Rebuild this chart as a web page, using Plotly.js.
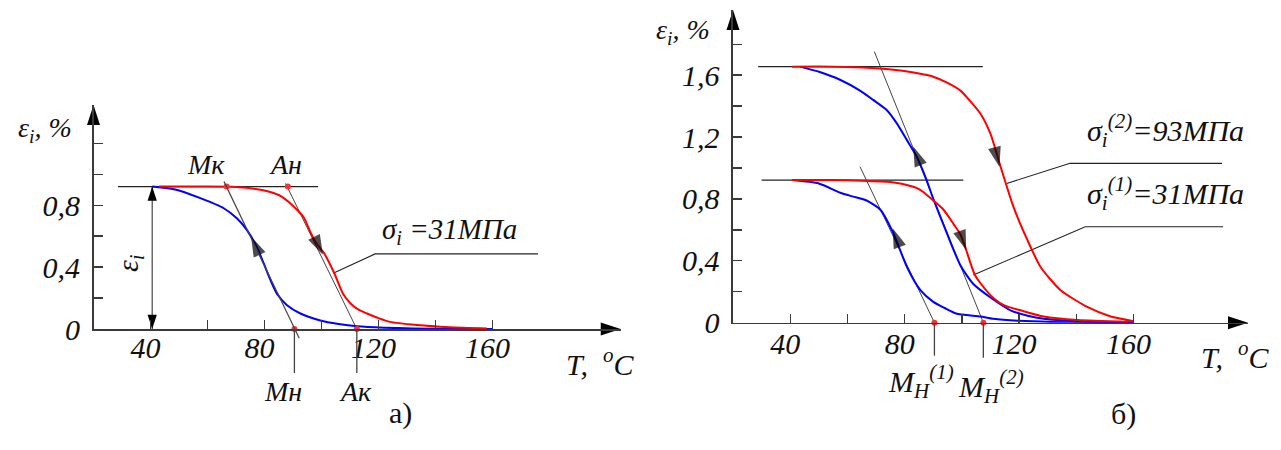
<!DOCTYPE html>
<html><head><meta charset="utf-8">
<script src="https://cdn.plot.ly/plotly-3.0.1.min.js"></script>
<style>
html,body{margin:0;padding:0;background:#fff;}
#chart{width:1281px;height:450px;}
</style>
</head><body><div id="chart"></div>
<script>
// ---------- (а) sigma_i = 31 MPa ----------
const T_a_heat   = [43, 55, 70, 78.6, 82, 85.6, 88.5, 91.4, 93.8, 96, 98, 100.9, 104.5, 107.5, 110.2, 113, 116, 120, 124, 133.5, 145, 158];
const eps_a_heat = [0.92, 0.92, 0.918, 0.90, 0.885, 0.86, 0.82, 0.77, 0.72, 0.63, 0.56, 0.49, 0.36, 0.23, 0.165, 0.125, 0.10, 0.07, 0.046, 0.026, 0.012, 0.004];
const T_a_cool   = [40.6, 49, 57.5, 65.7, 70.3, 73.8, 77.3, 79.7, 82, 84.3, 87.8, 92.6, 99.6, 106, 112.5, 122, 132, 146, 160];
const eps_a_cool = [0.92, 0.90, 0.845, 0.78, 0.715, 0.64, 0.53, 0.425, 0.32, 0.23, 0.155, 0.10, 0.055, 0.032, 0.017, 0.008, 0.004, 0.001, 0];
const a_level = 0.92;
const a_levelT = [28.6, 98.8];
const a_tanMk = {T: [65.8, 92.2], e: [0.952, -0.06]};   // Mк – Mн tangent
const a_tanAn = {T: [87.4, 112.4], e: [0.94, 0]};       // Aн – Aк tangent
const a_points = {T: [66.7, 88.2, 90.5, 112.4], e: [0.92, 0.92, 0, 0]}; // Mк, Aн, Mн, Aк
const a_leader = {T: [104.1, 118.8, 176], e: [0.36, 0.485, 0.485]};
const a_epsArrowT = 40.6;
const a_curveArrows = {T: [78, 75.3, 97, 100.5], e: [0.49, 0.596, 0.61, 0.48]}; // tail, tip pairs
const a_xticks = [40, 80, 120, 160];
const a_xtext  = ['40', '80', '120', '160'];
const a_xminor = [60, 100, 140];
const a_yticks = [0, 0.4, 0.8];
const a_ytext  = ['0', '0,4', '0,8'];
const a_yminor = [0.2, 0.6, 1.0, 1.2];
const a_xrange = [20, 205], a_yrange = [0, 1.447];

// ---------- (б) sigma_i(1) = 31 MPa, sigma_i(2) = 93 MPa ----------
const T_b2_cool   = [43.5, 50.3, 57.4, 64.4, 69, 73.7, 77.2, 80.8, 84.3, 87.5, 90, 94.7, 99.5, 104, 111, 117, 123, 128.6, 140, 160];
const eps_b2_cool = [1.655, 1.62, 1.57, 1.50, 1.44, 1.375, 1.29, 1.18, 1.07, 0.93, 0.80, 0.58, 0.37, 0.25, 0.15, 0.08, 0.045, 0.025, 0.01, 0.003];
const T_b2_heat   = [40.6, 55, 70, 78.5, 85, 90, 95, 99.5, 103, 106.5, 110, 113.5, 118, 123, 127.5, 134.5, 144, 152, 160];
const eps_b2_heat = [1.655, 1.655, 1.645, 1.63, 1.61, 1.59, 1.55, 1.50, 1.43, 1.35, 1.22, 1.01, 0.75, 0.53, 0.36, 0.21, 0.10, 0.04, 0.01];
const T_b1_cool   = [40.6, 50, 57.5, 62, 66.7, 71.5, 76, 80.8, 85.5, 90, 94, 98, 106.5, 111, 120, 131, 145, 160];
const eps_b1_cool = [0.922, 0.90, 0.84, 0.815, 0.79, 0.73, 0.58, 0.36, 0.21, 0.135, 0.095, 0.06, 0.04, 0.025, 0.012, 0.005, 0.002, 0];
const T_b1_heat   = [40.6, 55, 65, 75, 78.5, 84.3, 86.5, 90, 93.6, 97, 99.5, 101.5, 103, 104.5, 106.5, 111, 115, 120.5, 128.6, 140.5, 158];
const eps_b1_heat = [0.922, 0.922, 0.918, 0.91, 0.90, 0.87, 0.845, 0.79, 0.73, 0.64, 0.57, 0.47, 0.385, 0.31, 0.255, 0.16, 0.11, 0.08, 0.04, 0.017, 0.005];
const b_levels = [1.655, 0.922];
const b_levelT = [[28.8, 107.3], [30, 100.5]];
const b_tan2 = {T: [69.4, 107.5], e: [1.752, 0]};
const b_tan1 = {T: [64.4, 90.4], e: [1.008, 0]};
const b_points = {T: [90.4, 107.5], e: [0, 0]};
const b_leader2 = {T: [115.7, 137.8, 190.9], e: [0.90, 1.03, 1.03]};
const b_leader1 = {T: [104, 143.1, 191.3], e: [0.308, 0.62, 0.62]};
const b_curveArrows = {T: [86, 83.0, 78.5, 75.8, 111, 113.1, 99, 101.5], e: [1.0, 1.138, 0.48, 0.61, 1.16, 1.008, 0.6, 0.47]};
const b_xticks = [40, 80, 120, 160];
const b_xtext  = ['40', '80', '120', '160'];
const b_xminor = [60, 100, 140];
const b_yticks = [0, 0.4, 0.8, 1.2, 1.6];
const b_ytext  = ['0', '0,4', '0,8', '1,2', '1,6'];
const b_yminor = [0.2, 0.6, 1.0, 1.4, 1.8];
const b_xrange = [20, 200], b_yrange = [0, 2.021];

const RED = '#ff0000', BLUE = '#0000ff', INK = '#222', AXC = '#3a3a3a';
const FONT = 'Liberation Serif';
const W = 1281, H = 450;
// plot-area geometry (pixels)
const A_PX = {x0: 93.5, x1: 620.7, yBot: 329, yTop: 105, labelLift: 2};
const B_PX = {x0: 733, x1: 1248, yBot: 322.7, yTop: 10, labelLift: 0};

function line(x, y, xa, ya, color, width, shape) {
  return {type: 'scatter', mode: 'lines', x: x, y: y, xaxis: xa, yaxis: ya,
          line: {color: color, width: width, shape: shape || 'linear', smoothing: 0.6},
          hoverinfo: 'skip', showlegend: false};
}
function arrowsFrom(obj, xa, ya, size) {
  const sizes = obj.T.map((_, i) => i % 2 ? size : 0);
  return {type: 'scatter', mode: 'markers', x: obj.T, y: obj.e, xaxis: xa, yaxis: ya,
          marker: {symbol: 'arrow', angleref: 'previous', size: sizes, color: '#000', line: {width: 0}},
          cliponaxis: false, hoverinfo: 'skip', showlegend: false};
}
function dots(obj, xa, ya) {
  return {type: 'scatter', mode: 'markers', x: obj.T, y: obj.e, xaxis: xa, yaxis: ya,
          marker: {size: 6, color: '#ff3030', line: {width: 0}}, cliponaxis: false,
          hoverinfo: 'skip', showlegend: false};
}
function axisArrows(xr, yr, xa, ya) {
  return {type: 'scatter', mode: 'markers', x: [xr[0], xr[1]], y: [yr[1], yr[0]], xaxis: xa, yaxis: ya,
          marker: {symbol: 'arrow', angle: [0, 90], size: 21, color: '#000', line: {width: 0}},
          cliponaxis: false, hoverinfo: 'skip', showlegend: false};
}
// invisible carrier so the label-only x axes get drawn
function carrier(xr, xa, ya) {
  return {type: 'scatter', mode: 'markers', x: [xr[0]], y: [0], xaxis: xa, yaxis: ya,
          marker: {size: 1, opacity: 0}, hoverinfo: 'skip', showlegend: false};
}

const traces = [
  // (а)
  line(a_levelT, [a_level, a_level], 'x', 'y', INK, 1.2),
  line(a_tanAn.T, a_tanAn.e, 'x', 'y', '#444', 1),
  line(a_leader.T, a_leader.e, 'x', 'y', INK, 1.1),
  line([a_epsArrowT, a_epsArrowT], [0, a_level], 'x', 'y', '#444', 1.2),
  line(T_a_cool, eps_a_cool, 'x', 'y', BLUE, 2, 'spline'),
  line(T_a_heat, eps_a_heat, 'x', 'y', RED, 2, 'spline'),
  dots(a_points, 'x', 'y'),
  arrowsFrom(a_curveArrows, 'x', 'y', 21),
  {type: 'scatter', mode: 'markers', x: [a_epsArrowT, a_epsArrowT], y: [a_level, 0], xaxis: 'x', yaxis: 'y',
   marker: {symbol: 'arrow', angle: [0, 180], size: 15, color: '#000', line: {width: 0}},
   cliponaxis: false, hoverinfo: 'skip', showlegend: false},
  axisArrows(a_xrange, a_yrange, 'x', 'y'),
  carrier(a_xrange, 'x3', 'y'),
  // (б)
  line(b_levelT[0], [b_levels[0], b_levels[0]], 'x2', 'y2', INK, 1.2),
  line(b_levelT[1], [b_levels[1], b_levels[1]], 'x2', 'y2', INK, 1.2),
  line(b_tan2.T, b_tan2.e, 'x2', 'y2', '#444', 1),
  line(b_tan1.T, b_tan1.e, 'x2', 'y2', '#444', 1),
  line(b_leader2.T, b_leader2.e, 'x2', 'y2', INK, 1.1),
  line(b_leader1.T, b_leader1.e, 'x2', 'y2', INK, 1.1),
  line(T_b1_cool, eps_b1_cool, 'x2', 'y2', BLUE, 2, 'spline'),
  line(T_b2_cool, eps_b2_cool, 'x2', 'y2', BLUE, 2, 'spline'),
  line(T_b1_heat, eps_b1_heat, 'x2', 'y2', RED, 2, 'spline'),
  line(T_b2_heat, eps_b2_heat, 'x2', 'y2', RED, 2, 'spline'),
  dots(b_points, 'x2', 'y2'),
  arrowsFrom(b_curveArrows, 'x2', 'y2', 21),
  axisArrows(b_xrange, b_yrange, 'x2', 'y2'),
  carrier(b_xrange, 'x4', 'y2')
];

const tickFont = {family: FONT, size: 30, style: 'italic', color: '#111'};
function minor(vals) {
  return {tickmode: 'array', tickvals: vals, ticks: 'inside', ticklen: 9, tickwidth: 1.3, tickcolor: AXC, showgrid: false};
}
// main x axis: line + tick marks
function xax(domain, range, tv, mv) {
  return {domain: domain, range: range, showline: true, linecolor: AXC, linewidth: 1.6,
          ticks: 'inside', ticklen: 9, tickwidth: 1.3, tickcolor: AXC,
          tickmode: 'array', tickvals: tv, showticklabels: false, minor: minor(mv),
          showgrid: false, zeroline: false, fixedrange: true};
}
// overlaying x axis that only carries the tick labels
function xlab(over, range, tv, tt, px) {
  return {overlaying: over, anchor: 'free', position: (H - px.yBot + px.labelLift) / H, range: range,
          showline: false, ticks: '', tickmode: 'array', tickvals: tv, ticktext: tt, tickfont: tickFont,
          showgrid: false, zeroline: false, fixedrange: true, ticklabelshift: -5};
}
function yax(domain, range, tv, tt, mv) {
  return {domain: domain, range: range, showline: true, linecolor: AXC, linewidth: 1.6,
          ticks: 'inside', ticklen: 9, tickwidth: 1.3, tickcolor: AXC,
          tickmode: 'array', tickvals: tv, ticktext: tt, tickfont: tickFont, minor: minor(mv),
          showgrid: false, zeroline: false, fixedrange: true, ticklabelstandoff: 6};
}

function ann(text, xref, yref, x, y, opts) {
  return Object.assign({text: text, xref: xref, yref: yref, x: x, y: y, showarrow: false,
    font: {family: FONT, size: 30, style: 'italic', color: '#111'}}, opts || {});
}
// segment shapes: x in data, y as fraction of the y-axis domain (not clipped vertically)
function frac(e, yr) { return (e - yr[0]) / (yr[1] - yr[0]); }
function segData(xa, ya, yr, T0, e0, T1, e1) {
  return {type: 'line', xref: xa, yref: ya + ' domain', x0: T0, x1: T1, y0: frac(e0, yr), y1: frac(e1, yr),
          line: {color: '#444', width: 1.2}, layer: 'above'};
}
function segDown(xa, ya, T, px, pxDomain) {
  return {type: 'line', xref: xa, yref: ya + ' domain', x0: T, x1: T, y0: 0, y1: -px / pxDomain,
          line: {color: '#444', width: 1.3}, layer: 'above'};
}
const aDom = A_PX.yBot - A_PX.yTop, bDom = B_PX.yBot - B_PX.yTop;
const shapes = [
  segData('x', 'y', a_yrange, a_tanMk.T[0], a_tanMk.e[0], a_tanMk.T[1], a_tanMk.e[1]),
  segDown('x', 'y', a_points.T[2], 44, aDom),
  segDown('x', 'y', a_points.T[3], 44, aDom),
  segDown('x2', 'y2', b_points.T[0], 33, bDom),
  segDown('x2', 'y2', b_points.T[1], 35, bDom)
];

const lbl = (size, italic) => ({family: FONT, size: size, style: italic === false ? 'normal' : 'italic', color: '#111'});
const annotations = [
  // (а)
  ann('ε<sub>i</sub>, %', 'x', 'y', a_xrange[0], 1.286, {xanchor: 'right', xshift: -20, font: lbl(28)}),
  ann('Mк', 'x', 'y', 59.6, 1.06, {font: lbl(28)}),
  ann('Aн', 'x', 'y', 87.2, 1.06, {font: lbl(28)}),
  ann('Mн', 'x', 'y', 86.5, 0, {yshift: -62, font: lbl(28)}),
  ann('Aк', 'x', 'y', 111.9, 0, {yshift: -62, font: lbl(28)}),
  ann('σ<sub>i</sub> =31МПа', 'x', 'y', 120.5, 0.633, {xanchor: 'left', font: lbl(29)}),
  ann('ε<sub>i</sub>', 'x', 'y', 32.8, 0.426, {textangle: -90, font: lbl(30)}),
  ann('T,  <sup>o</sup>C', 'x', 'y', 197.7, 0, {yshift: -33}),
  ann('а)', 'paper', 'paper', 387 / W, 1 - 432 / H, {font: lbl(30, false)}),
  // (б)
  ann('ε<sub>i</sub>, %', 'x2', 'y2', b_xrange[0], 1.879, {xanchor: 'right', xshift: -21, font: lbl(28)}),
  ann('σ<sub>i</sub><sup>(2)</sup>=93МПа', 'x2', 'y2', 143.1, 1.245, {xanchor: 'left'}),
  ann('σ<sub>i</sub><sup>(1)</sup>=31МПа', 'x2', 'y2', 143.1, 0.838, {xanchor: 'left'}),
  ann('M<sub>H</sub><sup>(1)</sup>', 'x2', 'y2', 85.7, 0, {yshift: -59}),
  ann('M<sub>H</sub><sup>(2)</sup>', 'x2', 'y2', 110.2, 0, {yshift: -64}),
  ann('T,  <sup>o</sup>C', 'x2', 'y2', 195.5, 0, {yshift: -32}),
  ann('б)', 'paper', 'paper', 1138 / W, 1 - 433 / H, {font: lbl(30, false)})
];

const layout = {
  width: W, height: H, margin: {l: 0, r: 0, t: 0, b: 0},
  paper_bgcolor: '#fff', plot_bgcolor: 'rgba(0,0,0,0)', showlegend: false,
  font: {family: FONT, color: '#111'},
  xaxis:  Object.assign(xax([A_PX.x0 / W, A_PX.x1 / W], a_xrange, a_xticks, a_xminor), {anchor: 'y'}),
  yaxis:  Object.assign(yax([(H - A_PX.yBot) / H, (H - A_PX.yTop) / H], a_yrange, a_yticks, a_ytext, a_yminor), {anchor: 'x'}),
  xaxis2: Object.assign(xax([B_PX.x0 / W, B_PX.x1 / W], b_xrange, b_xticks, b_xminor), {anchor: 'y2'}),
  yaxis2: Object.assign(yax([(H - B_PX.yBot) / H, (H - B_PX.yTop) / H], b_yrange, b_yticks, b_ytext, b_yminor), {anchor: 'x2'}),
  xaxis3: xlab('x', a_xrange, a_xticks, a_xtext, A_PX),
  xaxis4: xlab('x2', b_xrange, b_xticks, b_xtext, B_PX),
  shapes: shapes,
  annotations: annotations
};

Plotly.newPlot('chart', traces, layout, {displayModeBar: false, staticPlot: true});
</script></body></html>
